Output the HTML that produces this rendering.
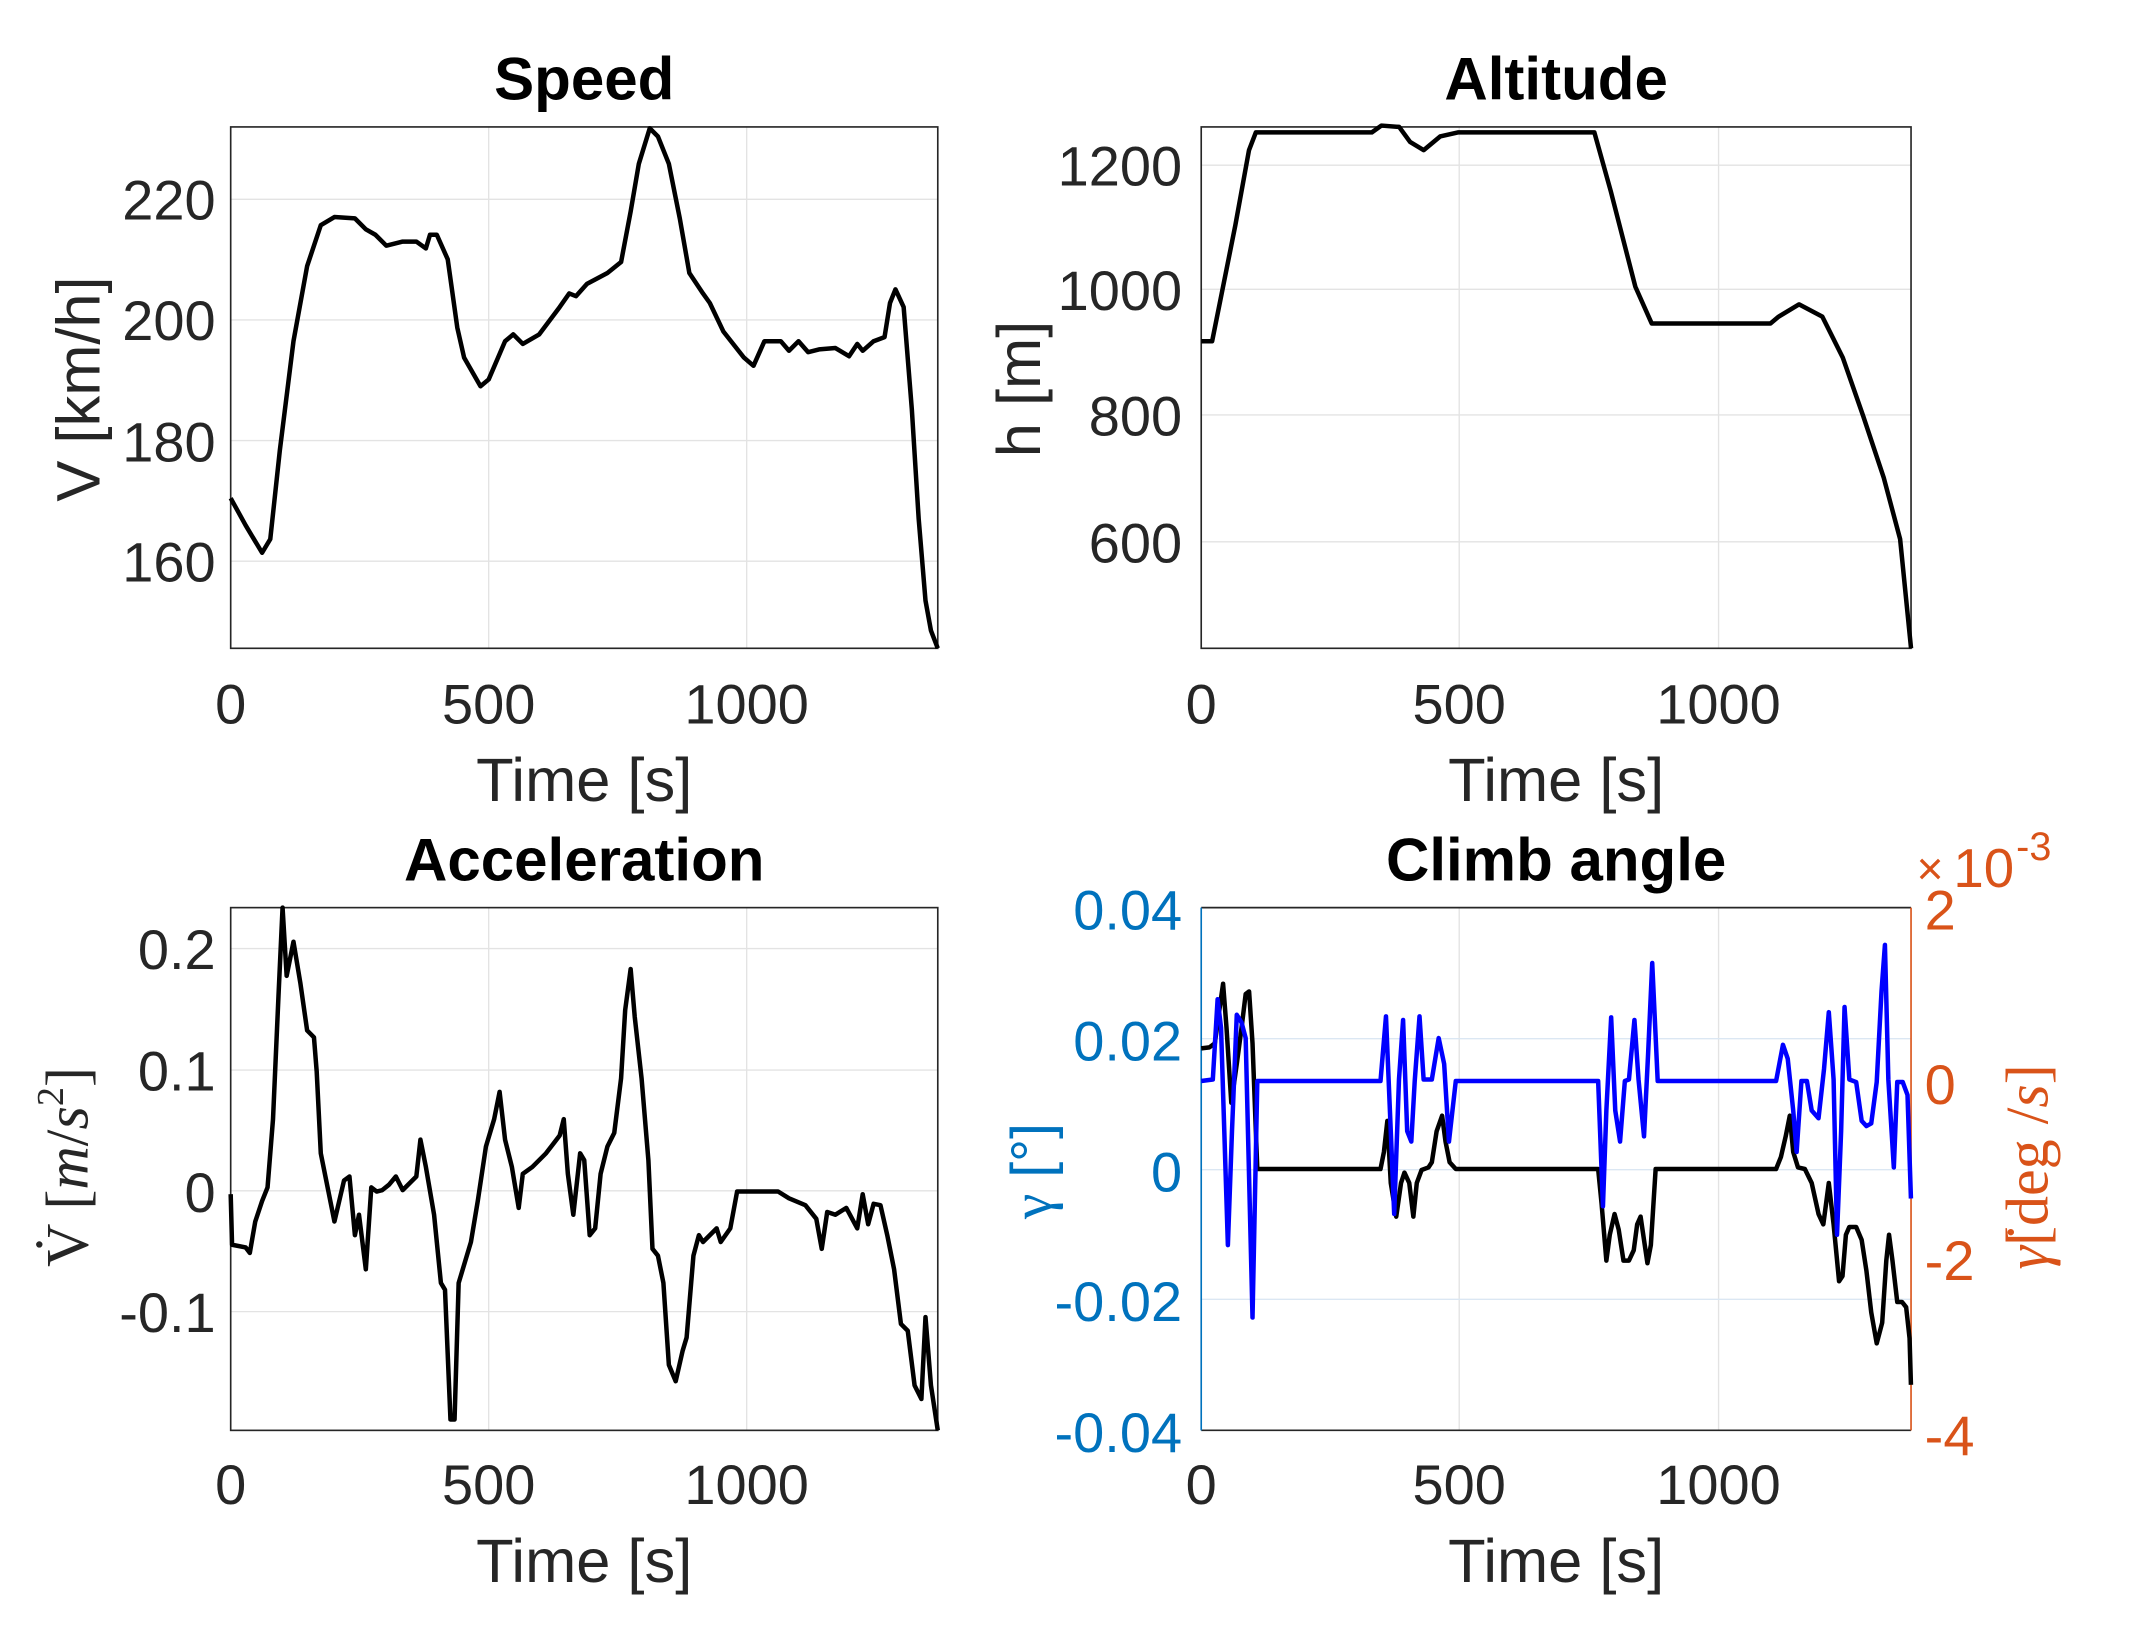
<!DOCTYPE html>
<html><head><meta charset="utf-8"><style>
html,body{margin:0;padding:0;background:#fff;}
svg{display:block;}
.s{font-family:"Liberation Sans",Arial,sans-serif;}
.r{font-family:"Liberation Serif","DejaVu Serif",serif;}
</style></head><body>
<svg width="2139" height="1631" viewBox="0 0 1567 1195" preserveAspectRatio="none" xmlns="http://www.w3.org/2000/svg">
<rect width="1567" height="1195" fill="#fff"/>

<!-- ===== Speed ===== -->
<g stroke="#e3e3e3" stroke-width="1">
<line x1="358" y1="93" x2="358" y2="475"/><line x1="547" y1="93" x2="547" y2="475"/>
<line x1="169" y1="146" x2="687" y2="146"/><line x1="169" y1="234.4" x2="687" y2="234.4"/>
<line x1="169" y1="322.8" x2="687" y2="322.8"/><line x1="169" y1="411.2" x2="687" y2="411.2"/>
</g>
<rect x="169" y="93" width="518" height="382" fill="none" stroke="#262626" stroke-width="1.2"/>
<polyline fill="none" stroke="#000" stroke-width="3.3" stroke-linejoin="round" points="169,365 180,385 192,405 198,395 205,330 215,250 225,195 235,165 245,159 260,160 268,168 275,172 283,180 295,177 305,177 312,182 315,172 320,172 328,190 335,240 340,262 352,283 358,278 370,250 376,245 383,252 395,245 410,225 417,215 422,217 430,208 445,200 455,192 462,155 468,120 476,94 482,100 490,120 498,160 505,200 515,215 520,222 530,243 545,262 552,268 560,250 572,250 578,257 585,250 592,258 600,256 612,255 622,261 628,252 632,257 640,250 648,247 652,222 656,212 662,225 668,300 673,380 678,440 682,462 687,475"/>
<g class="s" font-size="41" fill="#262626" text-anchor="end">
<text x="158" y="161">220</text><text x="158" y="249">200</text><text x="158" y="338">180</text><text x="158" y="426">160</text>
</g>
<g class="s" font-size="41" fill="#262626" text-anchor="middle">
<text x="169" y="530">0</text><text x="358" y="530">500</text><text x="547" y="530">1000</text>
<text x="428" y="587" font-size="45">Time [s]</text>
</g>
<text class="s" x="428" y="73" font-size="44" font-weight="bold" text-anchor="middle" fill="#000">Speed</text>
<text class="s" transform="translate(73,285) rotate(-90)" font-size="45" text-anchor="middle" fill="#262626">V [km/h]</text>

<!-- ===== Altitude ===== -->
<g stroke="#e3e3e3" stroke-width="1">
<line x1="1069" y1="93" x2="1069" y2="475"/><line x1="1259" y1="93" x2="1259" y2="475"/>
<line x1="880" y1="121" x2="1400" y2="121"/><line x1="880" y1="212" x2="1400" y2="212"/>
<line x1="880" y1="304" x2="1400" y2="304"/><line x1="880" y1="397" x2="1400" y2="397"/>
</g>
<rect x="880" y="93" width="520" height="382" fill="none" stroke="#262626" stroke-width="1.2"/>
<polyline fill="none" stroke="#000" stroke-width="3.3" stroke-linejoin="round" points="880,250 888,250 895,215 905,165 915,110 920,97 1005,97 1012,92 1025,93 1033,104 1043,110 1055,100 1068,97 1168,97 1180,140 1198,210 1210,237 1297,237 1303,232 1318,223 1335,232 1350,262 1365,305 1380,350 1392,395 1400,475"/>
<g class="s" font-size="41" fill="#262626" text-anchor="end">
<text x="866" y="136">1200</text><text x="866" y="227">1000</text><text x="866" y="319">800</text><text x="866" y="412">600</text>
</g>
<g class="s" font-size="41" fill="#262626" text-anchor="middle">
<text x="880" y="530">0</text><text x="1069" y="530">500</text><text x="1259" y="530">1000</text>
<text x="1140" y="587" font-size="45">Time [s]</text>
</g>
<text class="s" x="1140" y="73" font-size="44" font-weight="bold" text-anchor="middle" fill="#000">Altitude</text>
<text class="s" transform="translate(762,285) rotate(-90)" font-size="45" text-anchor="middle" fill="#262626">h [m]</text>

<!-- ===== Acceleration ===== -->
<g stroke="#e3e3e3" stroke-width="1">
<line x1="358" y1="665" x2="358" y2="1048"/><line x1="547" y1="665" x2="547" y2="1048"/>
<line x1="169" y1="695" x2="687" y2="695"/><line x1="169" y1="784" x2="687" y2="784"/>
<line x1="169" y1="872.5" x2="687" y2="872.5"/><line x1="169" y1="961" x2="687" y2="961"/>
</g>
<rect x="169" y="665" width="518" height="383" fill="none" stroke="#262626" stroke-width="1.2"/>
<polyline fill="none" stroke="#000" stroke-width="3.3" stroke-linejoin="round" points="169,875 170,912 180,914 183,918 187,895 192,880 196,870 200,820 204,730 207,665 210,715 215,690 220,720 225,755 230,760 232,785 235,845 242,880 245,895 252,865 256,862 260,905 263,890 268,930 272,870 276,873 280,872 285,868 290,862 295,872 305,862 308,835 312,855 318,890 323,940 326,945 330,1040 333,1040 336,940 345,910 350,880 356,840 362,820 366,800 370,835 375,855 380,885 383,860 390,855 400,845 410,832 413,820 416,860 420,890 425,845 428,850 432,905 436,900 440,860 445,840 450,830 455,790 458,740 462,710 465,745 470,790 475,850 478,915 482,920 486,940 490,1000 495,1012 500,990 503,980 508,920 512,905 515,910 525,900 528,910 535,900 540,873 570,873 578,878 590,883 598,893 602,915 606,888 612,890 620,885 628,900 632,875 636,897 640,882 645,883 650,905 655,930 660,970 665,975 670,1015 675,1025 678,965 682,1015 687,1048"/>
<g class="s" font-size="41" fill="#262626" text-anchor="end">
<text x="158" y="710">0.2</text><text x="158" y="799">0.1</text><text x="158" y="888">0</text><text x="158" y="976">-0.1</text>
</g>
<g class="s" font-size="41" fill="#262626" text-anchor="middle">
<text x="169" y="1102">0</text><text x="358" y="1102">500</text><text x="547" y="1102">1000</text>
<text x="428" y="1159" font-size="45">Time [s]</text>
</g>
<text class="s" x="428" y="645" font-size="44" font-weight="bold" text-anchor="middle" fill="#000">Acceleration</text>
<text class="r" transform="translate(64,855) rotate(-90)" font-size="44" text-anchor="middle" fill="#262626">V̇ [<tspan font-style="italic">m</tspan>/<tspan font-style="italic">s</tspan><tspan font-size="28" dy="-18">2</tspan><tspan dy="18">]</tspan></text>

<!-- ===== Climb angle ===== -->
<g stroke="#e3e3e3" stroke-width="1">
<line x1="1069" y1="665" x2="1069" y2="1048"/><line x1="1259" y1="665" x2="1259" y2="1048"/>
</g>
<g stroke="#dbe7f3" stroke-width="1">
<line x1="880" y1="761" x2="1400" y2="761"/><line x1="880" y1="857" x2="1400" y2="857"/><line x1="880" y1="952" x2="1400" y2="952"/>
</g>
<line x1="880" y1="665" x2="1400" y2="665" stroke="#262626" stroke-width="1.2"/>
<line x1="880" y1="1048" x2="1400" y2="1048" stroke="#262626" stroke-width="1.2"/>
<line x1="880" y1="665" x2="880" y2="1048" stroke="#0072BD" stroke-width="1.2"/>
<line x1="1400" y1="665" x2="1400" y2="1048" stroke="#D95319" stroke-width="1.2"/>
<g transform="translate(783.2,601.3) scale(0.5014,0.3792)">
<polyline fill="none" stroke="#000" stroke-width="4.5" vector-effect="non-scaling-stroke" stroke-linejoin="round" points="193,440 205,438 213,430 218,380 225,315 230,400 237,545 245,470 252,400 258,335 263,330 268,430 275,673 455,673 460,640 465,580 470,700 478,765 485,700 490,680 497,700 503,765 508,700 515,675 525,670 530,660 537,600 545,570 550,620 556,660 565,673 773,673 778,740 785,850 790,800 797,760 803,790 810,850 818,850 825,830 830,780 835,765 840,810 845,855 850,820 857,673 1033,673 1040,650 1047,610 1053,570 1058,640 1065,670 1075,673 1085,700 1095,760 1102,780 1110,700 1117,780 1125,890 1130,880 1135,800 1140,785 1150,785 1158,810 1165,870 1172,950 1180,1010 1188,970 1194,850 1198,800 1203,850 1210,930 1217,930 1223,940 1228,1000 1230,1090"/>
<polyline fill="none" stroke="#0000FF" stroke-width="4.5" vector-effect="non-scaling-stroke" stroke-linejoin="round" points="193,503 210,500 217,345 222,400 232,820 238,600 245,375 252,390 258,420 268,960 275,503 455,503 463,378 470,600 475,760 482,500 488,385 494,600 500,620 505,503 512,378 518,500 530,500 540,420 548,470 555,620 565,503 773,503 780,745 785,560 792,380 798,560 805,620 812,503 818,500 826,385 832,500 840,610 846,450 852,275 860,503 1033,503 1043,433 1050,460 1058,560 1063,640 1070,503 1078,503 1085,560 1095,575 1103,480 1110,370 1117,500 1122,800 1128,600 1133,360 1140,500 1150,505 1158,580 1165,590 1172,585 1180,505 1187,330 1192,240 1197,500 1205,670 1210,505 1218,505 1225,530 1230,730"/>
</g>
<g class="s" font-size="41" fill="#0072BD" text-anchor="end">
<text x="866" y="681">0.04</text><text x="866" y="777">0.02</text><text x="866" y="873">0</text><text x="866" y="968">-0.02</text><text x="866" y="1064">-0.04</text>
</g>
<g class="s" font-size="41" fill="#D95319" text-anchor="start">
<text x="1410" y="681">2</text><text x="1410" y="809">0</text><text x="1410" y="938">-2</text><text x="1410" y="1066">-4</text>
<text x="1404" y="648" font-size="34">×</text><text x="1431" y="650" font-size="40">10</text><text x="1477" y="630" font-size="29">-3</text>
</g>
<g class="s" font-size="41" fill="#262626" text-anchor="middle">
<text x="880" y="1102">0</text><text x="1069" y="1102">500</text><text x="1259" y="1102">1000</text>
<text x="1140" y="1159" font-size="45">Time [s]</text>
</g>
<text class="s" x="1140" y="645" font-size="44" font-weight="bold" text-anchor="middle" fill="#000">Climb angle</text>
<text class="s" transform="translate(770,858) rotate(-90)" font-size="42" text-anchor="middle" fill="#0072BD"><tspan class="r">γ</tspan> [°]</text>
<text class="r" transform="translate(1500,855) rotate(-90)" font-size="44" text-anchor="middle" fill="#D95319"><tspan font-style="italic">γ̇</tspan>[deg /<tspan font-style="italic">s</tspan>]</text>
</svg>
</body></html>
